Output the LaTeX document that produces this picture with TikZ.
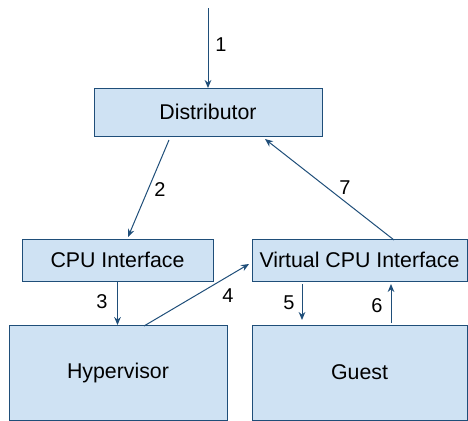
\documentclass[tikz,border=0pt]{standalone}
\usepackage{fontspec}
\setmainfont{Liberation Sans}
\usetikzlibrary{arrows.meta,calc}

\definecolor{boxfill}{HTML}{CFE2F3}
\definecolor{boxline}{HTML}{1F4E79}

\tikzset{every picture/.style={line width=0.75pt}}
\tikzset{
	blk/.style={draw=boxline,fill=boxfill,inner sep=0pt,outer sep=0pt,font=\fontsize{16}{19}\selectfont},
	lnk/.style={draw=boxline,-{Stealth[length=6pt,width=5pt]}},
	num/.style={inner sep=0.75pt,font=\fontsize{15}{18}\selectfont}
}

\begin{document}
\begin{tikzpicture}[x=0.75pt,y=0.75pt,yscale=-1,xscale=1]
	\useasboundingbox (0,0) rectangle (468,421);
	
	%Boxes
	\node [blk,minimum width=171pt,minimum height=36pt] (dist) at (208,112) {Distributor};
	\node [blk,minimum width=143.25pt,minimum height=31.5pt] (cpu) at (117.5,260) {CPU Interface};
	\node [blk,minimum width=161.25pt,minimum height=31.5pt] (vcpu) at (359.5,260) {Virtual CPU Interface};
	\node [blk,minimum width=163.5pt,minimum height=71.25pt] (hyp) at (118,372.5) {Hypervisor};
	\node [blk,minimum width=161.25pt,minimum height=71.25pt] (guest) at (359.5,372.5) {Guest};
	
	%Free end of the incoming arrow
	\coordinate (src) at (208,8);
	
	%Arrows
	\draw [lnk] (src) -- (dist.north);
	\draw [lnk] ($(dist.south)+(-39,4)$) -- ($(cpu.north)+(10.5,-2)$);
	\draw [lnk] (cpu.south) -- (hyp.north -| cpu.south);
	\draw [lnk] ($(hyp.north)+(26,1)$) -- ($(vcpu.west)+(-3,4)$);
	\draw [lnk] ($(vcpu.south)+(-57.5,3)$) -- ($(guest.north)+(-57.5,-5)$);
	\draw [lnk] ($(guest.north)+(31.5,-2)$) -- ($(vcpu.south)+(31.5,3)$);
	\draw [lnk] ($(vcpu.north)+(34.5,1)$) -- ($(dist.south)+(57,3)$);
	
	%Labels
	\node [num] (n1) at (221,45) {1};
	\node [num] (n2) at (160,190) {2};
	\node [num] (n3) at (102,302) {3};
	\node [num] (n4) at (228,296) {4};
	\node [num] (n5) at (289,303) {5};
	\node [num] (n6) at (377,306) {6};
	\node [num] (n7) at (345,188) {7};
	
\end{tikzpicture}
\end{document}
